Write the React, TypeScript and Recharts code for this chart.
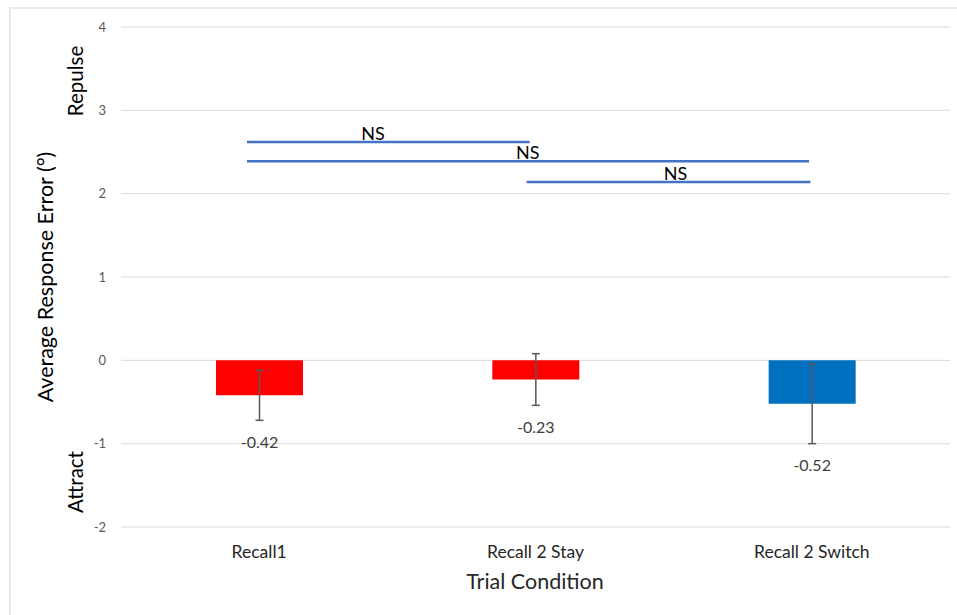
import React from "react";
import {
    BarChart,
    Bar,
    XAxis,
    YAxis,
    CartesianGrid,
    Cell,
    ErrorBar,
    LabelList,
    ReferenceLine,
    ReferenceDot,
} from "recharts";

// bar values
const conditions = ["Recall1", "Recall 2 Stay", "Recall 2 Switch"];
const positions = [0.5, 1.5, 2.5];
const means = [-0.42, -0.23, -0.52];
const errors = [0.3, 0.31, 0.48];
const barColors = ["#FF0000", "#FF0000", "#0070C0"];
const yTicks = [-2, -1, 0, 1, 2, 3, 4];

// NS comparison brackets (x in category units, 0..3)
const nsStart = [0.456, 0.456, 1.468];
const nsEnd = [1.479, 2.49, 2.495];
const nsLevel = [2.62, 2.39, 2.14];
const nsLabelX = [0.912, 1.472, 2.007];

const FONT = "Lato, 'Open Sans', sans-serif";

export default function App() {
    const data = conditions.map((name, i) => ({
        name,
        pos: positions[i],
        value: means[i],
        err: errors[i],
    }));

    const renderValueLabel = (props: any) => {
        const { x, y, width, height, value, index } = props;
        const top = Math.min(y, y + height);
        const bottom = Math.max(y, y + height);
        const pxPerUnit = Math.abs(height) / Math.abs(value);
        const errBottom = value < 0 ? bottom + errors[index] * pxPerUnit : top;
        return (
            <text
                x={x + width / 2}
                y={errBottom + 21}
                textAnchor="middle"
                dominantBaseline="central"
                fontSize={16}
                fill="#404040"
                fontFamily={FONT}
            >
                {value.toFixed(2)}
            </text>
        );
    };

    return (
        <div
            style={{
                position: "absolute",
                left: 0,
                top: 0,
                width: 957,
                height: 615,
                overflow: "hidden",
                background: "#fff",
                fontFamily: FONT,
            }}
        >
            <div
                style={{
                    position: "absolute",
                    left: 9,
                    top: 7,
                    width: 960,
                    height: 620,
                    borderLeft: "2px solid #ebebeb",
                    borderTop: "2px solid #ebebeb",
                }}
            />
            <BarChart
                width={957}
                height={615}
                data={data}
                margin={{ top: 27, right: 7, left: 91, bottom: 28 }}
                style={{ position: "absolute", left: 0, top: 0 }}
            >
                <CartesianGrid vertical={false} stroke="#d9d9d9" />
                <XAxis
                    dataKey="pos"
                    type="number"
                    domain={[0, 3]}
                    allowDataOverflow
                    ticks={positions}
                    tickFormatter={(v: number) => conditions[positions.indexOf(v)]}
                    axisLine={false}
                    tickLine={false}
                    height={60}
                    tickMargin={13}
                    tick={{ fontSize: 17.5, fill: "#262626", fontFamily: FONT }}
                />
                <YAxis
                    domain={[-2, 4]}
                    ticks={yTicks}
                    width={30}
                    axisLine={false}
                    tickLine={false}
                    tickMargin={9}
                    tick={{ fontSize: 13, fill: "#595959", fontFamily: FONT }}
                />
                <Bar dataKey="value" barSize={87} isAnimationActive={false}>
                    {data.map((_, i) => (
                        <Cell key={i} fill={barColors[i]} />
                    ))}
                    <ErrorBar dataKey="err" width={4} stroke="#595959" strokeWidth={1.5} />
                    <LabelList dataKey="value" content={renderValueLabel} />
                </Bar>
                {nsLevel.map((lvl, i) => (
                    <ReferenceLine
                        key={"l" + i}
                        segment={[
                            { x: nsStart[i], y: lvl },
                            { x: nsEnd[i], y: lvl },
                        ]}
                        stroke="#4472C4"
                        strokeWidth={2.5}
                    />
                ))}
                {nsLevel.map((lvl, i) => (
                    <ReferenceDot
                        key={"d" + i}
                        x={nsLabelX[i]}
                        y={lvl}
                        r={0}
                        fill="none"
                        stroke="none"
                        label={{
                            value: "NS",
                            position: "top",
                            offset: 2,
                            fontSize: 18,
                            fill: "#000",
                            fontFamily: FONT,
                        }}
                    />
                ))}
            </BarChart>
            <svg
                width={957}
                height={615}
                style={{ position: "absolute", left: 0, top: 0, pointerEvents: "none" }}
            >
                <text
                    transform="translate(45,277) rotate(-90)"
                    textAnchor="middle"
                    dominantBaseline="central"
                    fontSize={21.5}
                    fill="#000"
                    fontFamily={FONT}
                >
                    Average Response Error (°)
                </text>
                <text
                    transform="translate(75,81) rotate(-90)"
                    textAnchor="middle"
                    dominantBaseline="central"
                    fontSize={20.5}
                    fill="#000"
                    fontFamily={FONT}
                >
                    Repulse
                </text>
                <text
                    transform="translate(75,482) rotate(-90)"
                    textAnchor="middle"
                    dominantBaseline="central"
                    fontSize={20.5}
                    fill="#000"
                    fontFamily={FONT}
                >
                    Attract
                </text>
                <text
                    x={535}
                    y={581}
                    textAnchor="middle"
                    dominantBaseline="central"
                    fontSize={21.5}
                    fill="#262626"
                    fontFamily={FONT}
                >
                    Trial Condition
                </text>
            </svg>
        </div>
    );
}
